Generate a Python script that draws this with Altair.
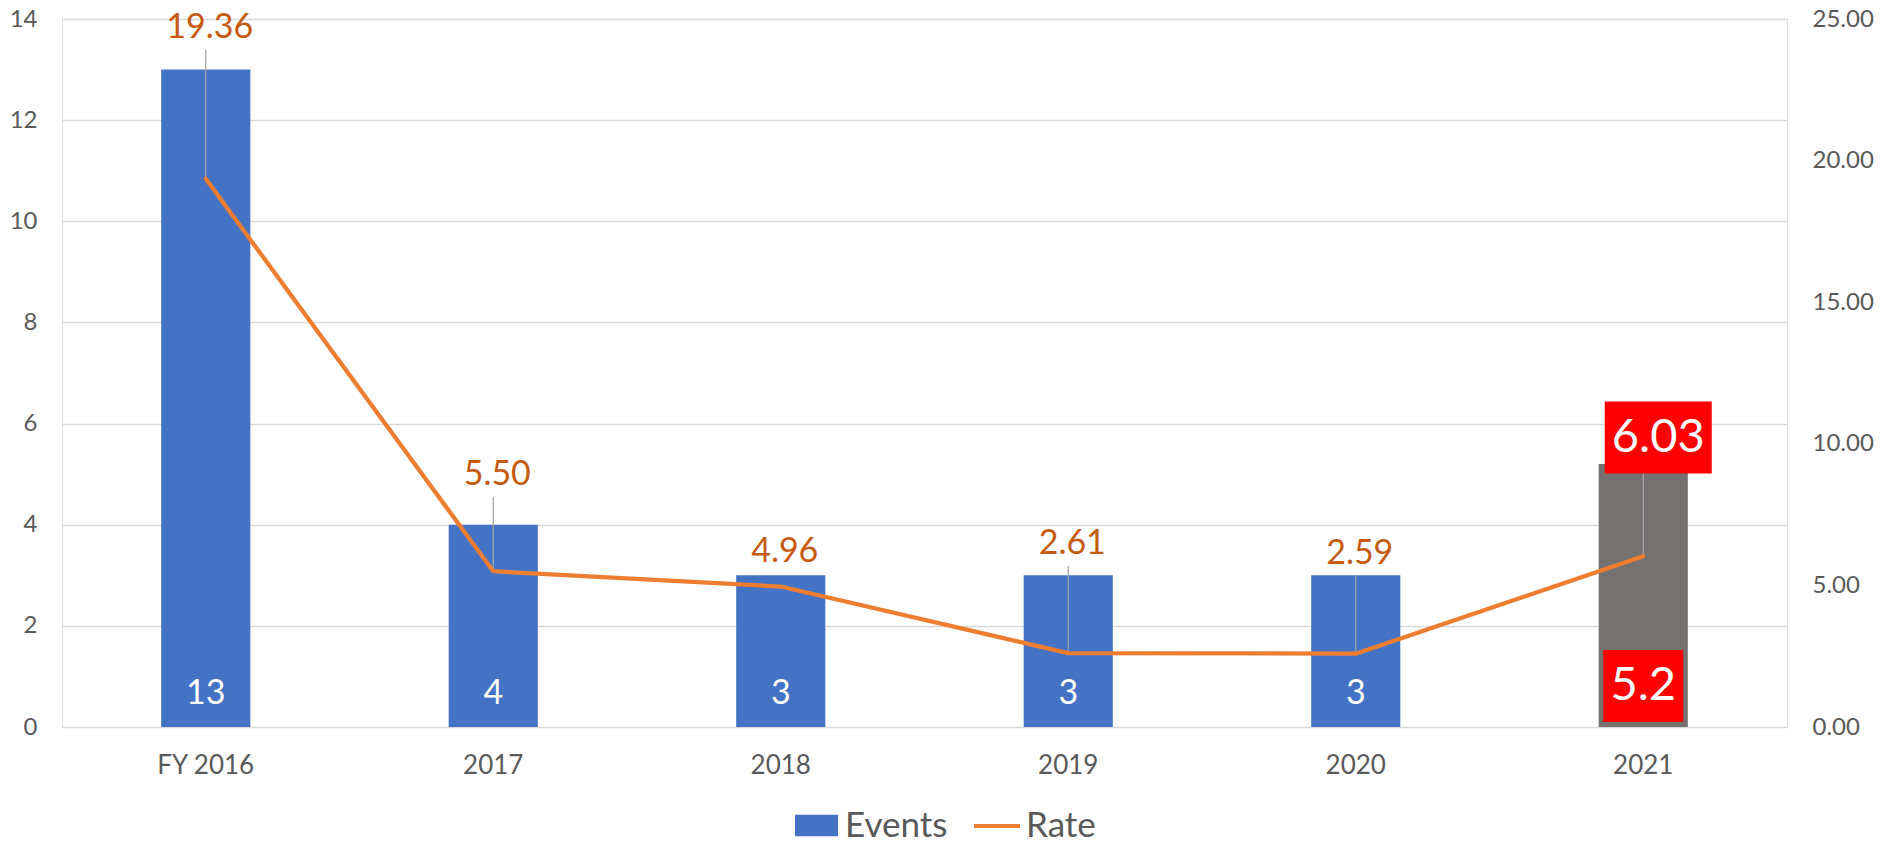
import altair as alt
import pandas as pd

# ---- data ----
years = ["FY 2016", "2017", "2018", "2019", "2020", "2021"]
events = [13, 4, 3, 3, 3, 5.2]
event_labels = ["13", "4", "3", "3", "3", "5.2"]
rates = [19.36, 5.50, 4.96, 2.61, 2.59, 6.03]
rate_labels = ["19.36", "5.50", "4.96", "2.61", "2.59", "6.03"]
# where each rate data label sits (in rate-axis units), as placed in the reference
rate_label_at = [24.8, 9.0, 6.27, 6.58, 6.23, 10.22]
bar_series = ["Events", "Events", "Events", "Events", "Events", "Estimate"]
line_series = ["Rate"] * 6

df = pd.DataFrame({
    "year": years,
    "events": events,
    "ev_label": event_labels,
    "rate": rates,
    "rate_label": rate_labels,
    "label_at": rate_label_at,
    "bar_series": bar_series,
    "line_series": line_series,
})

FONT = "Lato"
TXT = "#595959"
BLUE = "#4472C4"
GRAY_BAR = "#767171"
ORANGE = "#ED7D31"
ORANGE_TXT = "#C55A11"
RED = "#FF0000"

x_enc = alt.X(
    "year:N", sort=years,
    scale=alt.Scale(paddingInner=0.69, paddingOuter=0.345),
    axis=alt.Axis(title=None, labelFont=FONT, labelFontSize=26, labelColor=TXT,
                  ticks=False, domain=False, labelPadding=25, labelAngle=0, grid=False),
)

left_axis = alt.Axis(title=None, orient="left", values=[0, 2, 4, 6, 8, 10, 12, 14],
                     labelFont=FONT, labelFontSize=24, labelColor=TXT, labelPadding=25,
                     ticks=False, domain=False, grid=True, gridColor="#D9D9D9", gridWidth=1.5)
left_scale = alt.Scale(domain=[0, 14], nice=False)

right_axis = alt.Axis(title=None, orient="right", values=[0, 5, 10, 15, 20, 25], format=".2f",
                      labelFont=FONT, labelFontSize=24, labelColor=TXT, labelPadding=25,
                      ticks=False, domain=False, grid=False)
right_scale = alt.Scale(domain=[0, 25], nice=False)

base = alt.Chart(df)

bars = base.mark_bar().encode(
    x=x_enc,
    y=alt.Y("events:Q", scale=left_scale, axis=left_axis),
    color=alt.Color("bar_series:N",
                    scale=alt.Scale(domain=["Events", "Estimate"], range=[BLUE, GRAY_BAR]),
                    legend=alt.Legend(title=None, orient="none", legendX=733, legendY=785,
                                      values=["Events"], symbolType="M-1,-0.5H1V0.5H-1Z",
                                      symbolSize=1849, symbolStrokeWidth=0, symbolOpacity=1,
                                      labelFont=FONT, labelFontSize=35, labelColor=TXT,
                                      labelOffset=7, padding=0, labelLimit=400)),
)

bar_text = base.transform_calculate(base="0").transform_filter(
    "datum.year != '2021'"
).mark_text(font=FONT, fontSize=34, color="white", dy=-33, baseline="middle").encode(
    x=x_enc,
    y=alt.Y("base:Q", scale=left_scale, axis=left_axis),
    text="ev_label:N",
)

box52 = base.transform_calculate(base="0").transform_filter(
    "datum.year == '2021'"
).mark_point(shape="M-1,-0.9H1V0.9H-1Z", size=6400, filled=True, color=RED,
             opacity=1, strokeWidth=0, yOffset=-41).encode(
    x=x_enc,
    y=alt.Y("base:Q", scale=left_scale, axis=left_axis),
)

text52 = base.transform_calculate(base="0").transform_filter(
    "datum.year == '2021'"
).mark_text(font=FONT, fontSize=47, color="white", dy=-41, baseline="middle").encode(
    x=x_enc,
    y=alt.Y("base:Q", scale=left_scale, axis=left_axis),
    text="ev_label:N",
)

left = alt.layer(bars, bar_text, box52, text52)

leaders = base.transform_filter("datum.label_at - datum.rate > 1.5").mark_rule(
    color="#A6A6A6", strokeWidth=1.3, y2Offset=25
).encode(
    x=x_enc,
    y=alt.Y("rate:Q", scale=right_scale, axis=right_axis),
    y2="label_at:Q",
)

line = base.mark_line(strokeWidth=4.25, strokeJoin="round", strokeCap="round").encode(
    x=x_enc,
    y=alt.Y("rate:Q", scale=right_scale, axis=right_axis),
    stroke=alt.Stroke("line_series:N", scale=alt.Scale(domain=["Rate"], range=[ORANGE]),
                      legend=alt.Legend(title=None, orient="none", legendX=910, legendY=782,
                                        symbolType="stroke", symbolSize=2116,
                                        symbolStrokeWidth=4, labelFont=FONT, labelFontSize=35,
                                        labelColor=TXT, labelOffset=4, padding=0,
                                        labelLimit=400)),
)

rate_text = base.transform_filter("datum.year != '2021'").mark_text(
    font=FONT, fontSize=34, color=ORANGE_TXT, dx=4, dy=3, baseline="middle"
).encode(
    x=x_enc,
    y=alt.Y("label_at:Q", scale=right_scale, axis=right_axis),
    text="rate_label:N",
)

box603 = base.transform_filter("datum.year == '2021'").mark_point(
    shape="M-1,-0.673H1V0.673H-1Z", size=11449, filled=True, color=RED,
    opacity=1, strokeWidth=0, xOffset=15
).encode(
    x=x_enc,
    y=alt.Y("label_at:Q", scale=right_scale, axis=right_axis),
)

text603 = base.transform_filter("datum.year == '2021'").mark_text(
    font=FONT, fontSize=47, color="white", dx=15, baseline="middle"
).encode(
    x=x_enc,
    y=alt.Y("label_at:Q", scale=right_scale, axis=right_axis),
    text="rate_label:N",
)

right = alt.layer(leaders, line, rate_text, box603, text603)

chart = alt.layer(left, right).resolve_scale(
    y="independent", color="independent", stroke="independent"
).properties(
    width=1725, height=708,
    autosize=alt.AutoSizeParams(type="none"),
    padding={"left": 54, "top": 11, "right": 95, "bottom": 112},
    background="white",
).configure_view(stroke=None).configure(font=FONT)

chart.save("out.html", embed_options={"renderer": "svg", "actions": False})
